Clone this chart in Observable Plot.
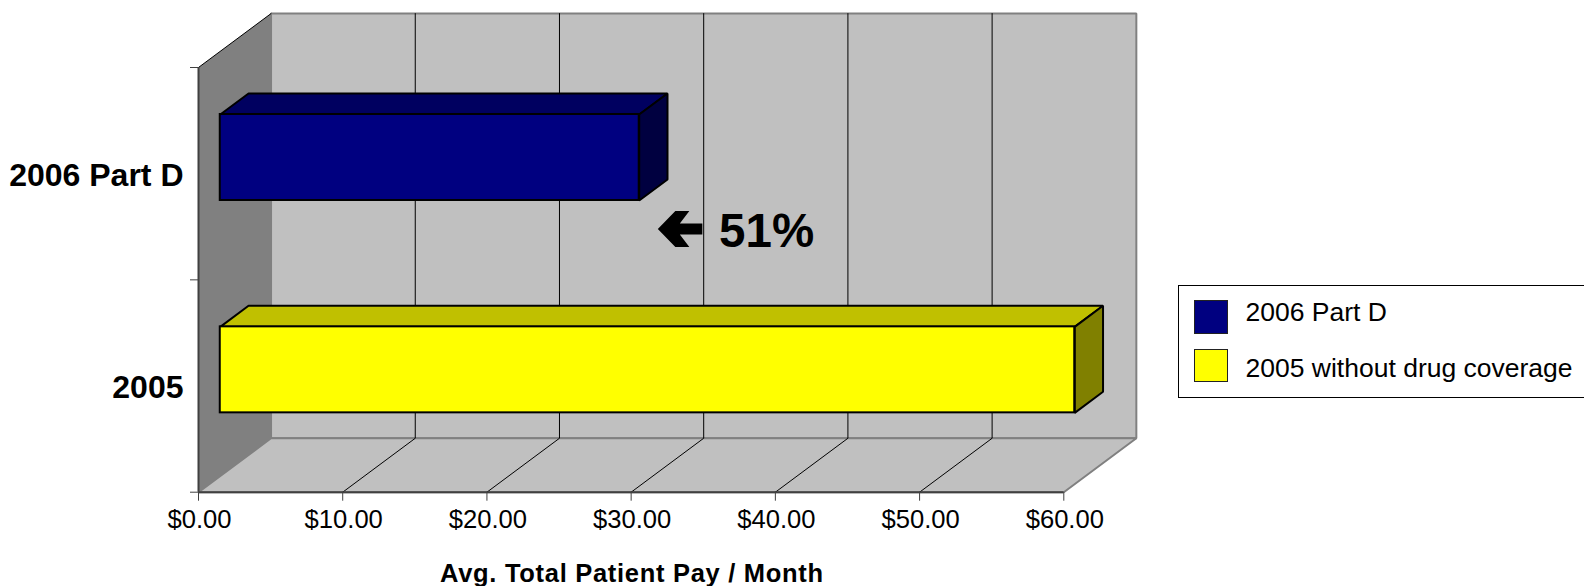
<!DOCTYPE html>
<html><head><meta charset="utf-8">
<script src="https://cdn.jsdelivr.net/npm/d3@7"></script>
<script src="https://cdn.jsdelivr.net/npm/@observablehq/plot@0.6"></script>
<style>
html,body{margin:0;padding:0;background:#fff;overflow:hidden}
#wrap{position:relative;width:1584px;height:586px;font-family:"Liberation Sans",Arial,sans-serif}
#legend{position:absolute;left:1178px;top:285px;width:420px;height:113px;border:1.5px solid #000;background:#fff;box-sizing:border-box}
.sw{position:absolute;left:15px;width:33.5px;height:33.5px;border:1.5px solid #222;box-sizing:border-box}
.lt{position:absolute;left:66.5px;font-size:26.5px;line-height:30px;color:#000;white-space:nowrap}
.xtitle text{letter-spacing:0.7px}
</style></head><body><div id="wrap"><div id="chart"></div><div id="legend"></div></div>
<script>
const categories = ["2005", "2006 Part D"];
const values = [59.25, 29.05];
const legendLabels = ["2006 Part D", "2005 without drug coverage"];
const frontColors = {"2005": "#ffff00", "2006 Part D": "#000080"};
const topColors = {"2005": "#c0c000", "2006 Part D": "#000060"};
const sideColors = {"2005": "#808000", "2006 Part D": "#000040"};
const xTicks = [0, 10, 20, 30, 40, 50, 60];
const yTicks = [0, 1, 2];
const annotation = "51%";
const xTitle = "Avg. Total Patient Pay / Month";

// oblique projection: depth d in [0,1] shifts a point toward the back wall
const DX = 5.03, DY = 0.254;
const px = (v, d) => v + d * DX, py = (c, d) => c + d * DY;
const dFront = 0.3, dBack = 0.69, half = 0.2025;

const poly = (pts) => pts.map(([v, c, d]) => ({x: px(v, d), y: py(c, d)}));
const face = (pts, fill, stroke, strokeWidth) =>
  Plot.line(poly(pts), {x: "x", y: "y", fill, stroke, strokeWidth, strokeLinejoin: "miter", curve: "linear-closed"});

const marks = [
  face([[0,0,0],[0,2,0],[0,2,1],[0,0,1]], "#808080", "none", 0),
  face([[0,0,1],[0,2,1],[60,2,1],[60,0,1]], "#c0c0c0", "#808080", 2),
  face([[0,0,0],[0,0,1],[60,0,1],[60,0,0]], "#c0c0c0", "#808080", 2),
];
for (const t of xTicks.slice(1, -1)) {
  marks.push(Plot.line(poly([[t,0,0],[t,0,1],[t,2,1]]), {x:"x", y:"y", stroke:"#000", strokeWidth:1}));
}
marks.push(Plot.line(poly([[0,2,0],[0,2,1]]), {x:"x", y:"y", stroke:"#000", strokeWidth:1}));
categories.forEach((cat, i) => {
  const c = i + 0.5, v = values[i], lo = c - half, hi = c + half;
  marks.push(face([[0,hi,dFront],[0,hi,dBack],[v,hi,dBack],[v,hi,dFront]], topColors[cat], "#000", 2));
  marks.push(face([[v,lo,dFront],[v,hi,dFront],[v,hi,dBack],[v,lo,dBack]], sideColors[cat], "#000", 2));
  marks.push(Plot.rect([{a:px(0,dFront), b:px(v,dFront), c:py(lo,dFront), d:py(hi,dFront)}], {x1:"a", x2:"b", y1:"c", y2:"d", fill: frontColors[cat], stroke:"#000", strokeWidth:2}));
});
// block arrow glyph, drawn pointing left from its tip, proportional to the vector length
const blockArrow = {draw(ctx, l) {
  const s = l / 44.5;
  const pts = [[0,0],[17.5,-18],[31.5,-18],[22,-5.5],[44.5,-5.5],[44.5,5.5],[22,5.5],[31.5,18],[17.5,18]];
  pts.forEach(([a, b], i) => i ? ctx.lineTo(a * s, b * s) : ctx.moveTo(a * s, b * s));
  ctx.closePath();
}};
const chart = Plot.plot({
  width: 1584, height: 586,
  marginTop: 67, marginBottom: 94.3, marginLeft: 198, marginRight: 520.7,
  style: {background: "transparent", fontFamily: '"Liberation Sans",Arial,sans-serif', color: "#000"},
  x: {type: "linear", domain: [0, 60]},
  y: {type: "linear", domain: [0, 2]},
  marks: [
    ...marks,
    Plot.ruleX([0], {y1: () => 0, y2: () => 2, stroke: "#404040", strokeWidth: 2}),
    Plot.ruleY([0], {x1: () => 0, x2: () => 60, stroke: "#404040", strokeWidth: 2}),
    Plot.axisX(xTicks, {tickSize: 9, tickFormat: () => "", label: null, anchor: "bottom", stroke: "#404040"}),
    Plot.axisX(xTicks, {tickSize: 0, tickPadding: 18, dx: 1, fontSize: 25.6, tickFormat: d => "$" + d.toFixed(2), label: null, anchor: "bottom"}),
    Plot.axisY(yTicks, {tickSize: 8, tickFormat: () => "", label: null, anchor: "left", stroke: "#404040"}),
    Plot.text(categories, {x: () => 0, y: (d, i) => i + 0.5, text: d => d, textAnchor: "end", dx: -15, dy: 2, fontSize: 32, fontWeight: "bold", fill: "#000"}),
    Plot.vector([annotation], {x: () => 31.85, y: () => 1.24, length: 44.5, anchor: "start", shape: blockArrow, fill: "#000", stroke: "none"}),
    Plot.text([annotation], {x: () => 36.1, y: () => 1.2385, text: d => d, textAnchor: "start", dy: 3, fontSize: 47.5, fontWeight: "bold", fill: "#000"}),
    Plot.text([xTitle], {x: () => 30.05, y: () => 0, text: d => d, dy: 81.8, fontSize: 25.5, fontWeight: "bold", fill: "#000", className: "xtitle"}),
  ]
});
document.getElementById("chart").appendChild(chart);
const leg = document.getElementById("legend");
legendLabels.forEach((t, i) => {
  const cat = categories[1 - i];
  const s = document.createElement("div"); s.className = "sw";
  s.style.top = (14 + i * 48.5) + "px"; s.style.background = frontColors[cat]; leg.appendChild(s);
  const l = document.createElement("div"); l.className = "lt"; l.textContent = t;
  l.style.top = (11 + i * 56) + "px"; leg.appendChild(l);
});
</script></body></html>
